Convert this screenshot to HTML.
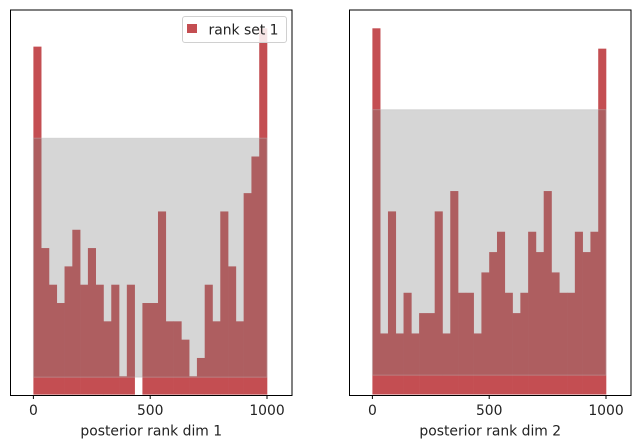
<!DOCTYPE html>
<html><head><meta charset="utf-8"><style>
body{margin:0;background:#fff;}
svg{display:block;font-family:"DejaVu Sans","Liberation Sans",sans-serif;}
</style></head><body>
<svg id="chart" width="640" height="448" xmlns="http://www.w3.org/2000/svg"></svg>
<script>
const binEdgesStart = 0;
const binEdgesEnd = 1000;
const numBins = 30;
const countsDim1 = [19,8,6,5,7,9,6,8,6,4,6,1,6,0,5,5,10,4,4,3,1,2,6,4,10,7,4,11,13,20];
const countsDim2 = [18,3,9,3,5,3,4,4,9,3,10,5,5,3,6,7,8,5,4,5,8,7,10,6,5,5,8,7,8,17];
const bandLower = [0.95, 0.95];
const bandUpper = [14.0, 14.0];
const xTicks = [0, 500, 1000];
const xLabels = ["posterior rank dim 1", "posterior rank dim 2"];
const legendLabel = "rank set 1";

const NS = "http://www.w3.org/2000/svg";
const svgEl = document.getElementById("chart");
function mk(tag, attrs, parent){
  const e = document.createElementNS(NS, tag);
  for (const k in attrs) e.setAttribute(k, attrs[k]);
  (parent||svgEl).appendChild(e);
  return e;
}
const panels = [{x0:10.5,x1:292,counts:countsDim1},{x0:349.5,x1:631,counts:countsDim2}];
const plotTop = 10, plotBottom = 395.5;
panels.forEach((p, i) => {
  const g = mk("g", {});
  
  
  const xmin = -98, xmax = 1107;
  const xs = v => p.x0 + (v - xmin) / (xmax - xmin) * (p.x1 - p.x0);
  const maxC = Math.max(...p.counts);
  const ymax = maxC * 1.05, ymin = -0.05;
  const ys = v => plotBottom - (v - ymin) / (ymax - ymin) * (plotBottom - plotTop);
  const bw = (binEdgesEnd - binEdgesStart) / numBins;
  p.counts.forEach((c, j) => {
    if (c <= 0) return;
    const r = mk("rect", {x: xs(binEdgesStart + j*bw), y: ys(c), width: xs(binEdgesStart+(j+1)*bw) - xs(binEdgesStart + j*bw) + 0.3, height: ys(0) - ys(c), fill: "#c44e52"}, g);
    
    
  });
  const band = mk("rect", {x: xs(binEdgesStart), y: ys(bandUpper[i]), width: xs(binEdgesEnd) - xs(binEdgesStart), height: ys(bandLower[i]) - ys(bandUpper[i]), fill: "#7f7f7f", "fill-opacity": 0.32, stroke:"#bbb", "stroke-opacity":0.4}, g);
  
  
  const frame = mk("rect", {x: p.x0, y: plotTop, width: p.x1 - p.x0, height: plotBottom - plotTop, fill: "none", stroke: "#000", "stroke-width": 1}, g);
  
  
  xTicks.forEach(t => {
    const tg = mk("g", {}, g);
    
    
    mk("line", {x1: xs(t), x2: xs(t), y1: plotBottom, y2: plotBottom + 3.5, stroke: "#000"}, tg);
    const tx = mk("text", {x: xs(t), y: 415, "text-anchor": "middle", "font-size": 13.9, fill: "#222"}, tg);
    tx.textContent = t;
  });
  const lab = mk("text", {x: (p.x0 + p.x1)/2, y: 435.5, "text-anchor": "middle", "font-size": 13.9, fill: "#222"}, g);
  lab.textContent = xLabels[i];
  
  
});
const lg = mk("g", {});


mk("rect", {x: 182.5, y: 16.5, width: 104, height: 26, rx: 2.5, fill: "#fff", "fill-opacity": 0.85, stroke: "#d0d0d0"}, lg);
const sw = mk("rect", {x: 187, y: 24, width: 10, height: 9, fill: "#c44e52"}, lg);


const lt = mk("text", {x: 208.5, y: 34.5, "font-size": 13.9, fill: "#222"}, lg);
lt.textContent = legendLabel;


</script>
</body></html>
